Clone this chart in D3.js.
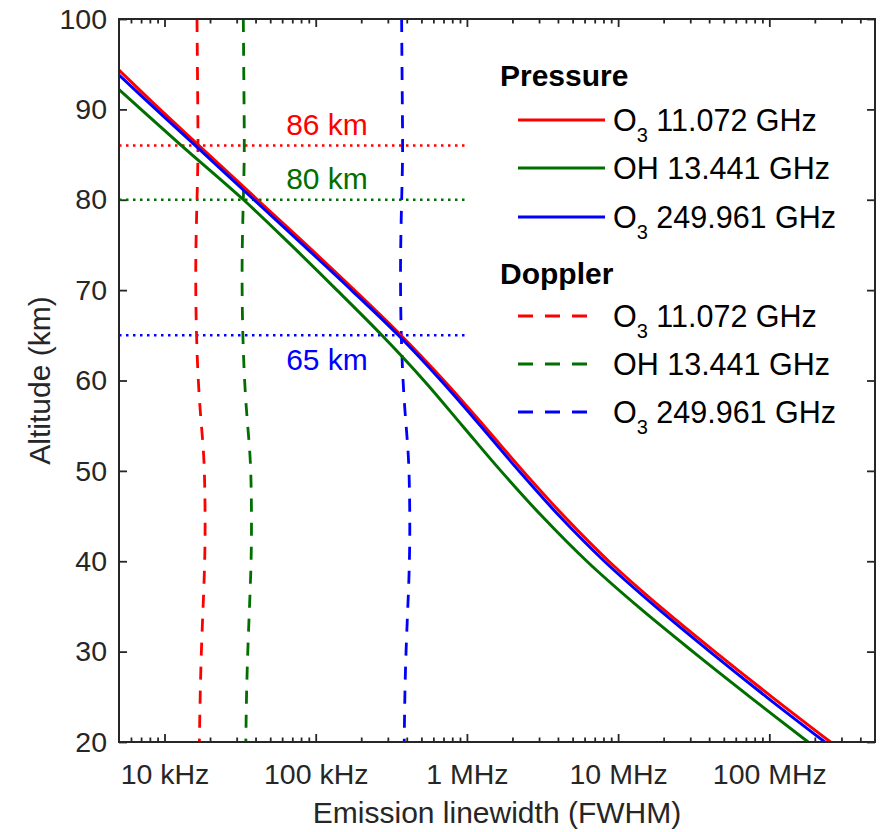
<!DOCTYPE html>
<html>
<head>
<meta charset="utf-8">
<title>Emission linewidth vs altitude</title>
<script src="https://cdn.jsdelivr.net/npm/d3@7"></script>
<style>
  body { margin: 0; background: #fff; }
  text { font-family: "Liberation Sans", Arial, Helvetica, sans-serif; }
</style>
</head>
<body>
<script>

// ---- data (altitude in km, linewidth in Hz) ----
const presAltRed   = [94.35, 90, 86, 80, 75, 70, 65, 60, 55, 50, 45, 40, 35, 30, 25, 20];
const presRed      = [5.0e3, 9.34e3, 1.690e4, 4.12e4, 8.68e4, 1.803e5, 3.66e5, 7.04e5, 1.295e6, 2.345e6, 4.38e6, 8.68e6, 1.887e7, 4.36e7, 1.038e8, 2.54e8];
const presAltGreen = [92.2, 90, 86, 80, 75, 70, 65, 60, 55, 50, 45, 40, 35, 30, 25, 20];
const presGreen    = [5.0e3, 6.99e3, 1.295e4, 3.33e4, 6.86e4, 1.381e5, 2.74e5, 5.19e5, 9.33e5, 1.677e6, 3.13e6, 6.21e6, 1.35e7, 3.12e7, 7.43e7, 1.805e8];
const presAltBlue  = [93.8, 90, 86, 80, 75, 70, 65, 60, 55, 50, 45, 40, 35, 30, 25, 20];
const presBlue     = [5.0e3, 8.78e3, 1.602e4, 3.905e4, 8.23e4, 1.722e5, 3.52e5, 6.73e5, 1.228e6, 2.207e6, 4.09e6, 8.11e6, 1.762e7, 4.04e7, 9.55e7, 2.33e8];

const dopAlt   = [100, 90, 85, 80, 73, 65, 58, 53, 50, 45, 40, 35, 30, 25, 20];
const dopRed   = [1.64e4, 1.66e4, 1.67e4, 1.64e4, 1.60e4, 1.62e4, 1.69e4, 1.80e4, 1.84e4, 1.86e4, 1.85e4, 1.80e4, 1.75e4, 1.72e4, 1.70e4];
const dopGreen = [3.32e4, 3.36e4, 3.38e4, 3.32e4, 3.24e4, 3.28e4, 3.42e4, 3.64e4, 3.73e4, 3.77e4, 3.75e4, 3.65e4, 3.55e4, 3.48e4, 3.45e4];
const dopBlue  = [3.70e5, 3.74e5, 3.77e5, 3.70e5, 3.62e5, 3.66e5, 3.82e5, 4.06e5, 4.15e5, 4.20e5, 4.18e5, 4.07e5, 3.95e5, 3.88e5, 3.85e5];

const crossAlt    = [86, 80, 65];
const crossLabels = ["86 km", "80 km", "65 km"];
const crossEnd    = [5e3, 1e6];

const xTickValues = [1e4, 1e5, 1e6, 1e7, 1e8];
const xTickLabels = ["10 kHz", "100 kHz", "1 MHz", "10 MHz", "100 MHz"];
const yTickValues = [20, 30, 40, 50, 60, 70, 80, 90, 100];

const lineSpecies = ["O", "OH", "O"];
const lineSub     = ["3", "", "3"];
const lineFreqs   = ["11.072 GHz", "13.441 GHz", "249.961 GHz"];

const colors = ["#ff0000", "#006f00", "#0000ff"];
const axisColor = "#262626";

// ---- layout ----
const W = 881, H = 832;
const plot = { left: 119, right: 875, top: 19, bottom: 742 };

let x = d3.scaleLog().domain([5e3, 5e8]).range([plot.left, plot.right]);
let y = d3.scaleLinear().domain([20, 100]).range([plot.bottom, plot.top]);

let svg = d3.select("body").append("svg")
    .attr("width", W)
    .attr("height", H);

// minor ticks on the log axis: 2..9 of every decade inside the domain
let minorTicks = [];
for (let e = 3; e <= 8; e++) {
    for (let m = 2; m <= 9; m++) {
        let v = m * Math.pow(10, e);
        if (v > 5e3 && v < 5e8) minorTicks.push(v);
    }
}

let clipId = "plotclip";
svg.append("clipPath").attr("id", clipId)
    .append("rect")
    .attr("x", plot.left).attr("y", plot.top)
    .attr("width", plot.right - plot.left)
    .attr("height", plot.bottom - plot.top);

// ---- axes ----
function styleAxis(g) {
    g.select(".domain").remove();
    g.selectAll(".tick line").attr("stroke", axisColor).attr("stroke-width", 1.8);
    g.selectAll(".tick text").attr("fill", axisColor).style("font-size", "28.5px");
}

svg.append("g")
    .attr("transform", `translate(0,${plot.bottom})`)
    .call(d3.axisBottom(x).tickValues(xTickValues)
        .tickFormat((d, i) => xTickLabels[i])
        .tickSize(-8).tickSizeOuter(0).tickPadding(22))
    .call(styleAxis);

svg.append("g")
    .attr("transform", `translate(0,${plot.bottom})`)
    .call(d3.axisBottom(x).tickValues(minorTicks).tickFormat("")
        .tickSize(-4.5).tickSizeOuter(0))
    .call(styleAxis);

svg.append("g")
    .attr("transform", `translate(0,${plot.top})`)
    .call(d3.axisTop(x).tickValues(xTickValues).tickFormat("")
        .tickSize(-8).tickSizeOuter(0))
    .call(styleAxis);

svg.append("g")
    .attr("transform", `translate(0,${plot.top})`)
    .call(d3.axisTop(x).tickValues(minorTicks).tickFormat("")
        .tickSize(-4.5).tickSizeOuter(0))
    .call(styleAxis);

svg.append("g")
    .attr("transform", `translate(${plot.left},0)`)
    .call(d3.axisLeft(y).tickValues(yTickValues)
        .tickSize(-8).tickSizeOuter(0).tickPadding(12))
    .call(styleAxis);

svg.append("g")
    .attr("transform", `translate(${plot.right},0)`)
    .call(d3.axisRight(y).tickValues(yTickValues).tickFormat("")
        .tickSize(-8).tickSizeOuter(0))
    .call(styleAxis);

// axis titles
svg.append("text")
    .attr("x", (plot.left + plot.right) / 2)
    .attr("y", 823)
    .attr("text-anchor", "middle")
    .attr("fill", axisColor)
    .style("font-size", "30px")
    .text("Emission linewidth (FWHM)");

svg.append("text")
    .attr("transform", `translate(50,${(plot.top + plot.bottom) / 2}) rotate(-90)`)
    .attr("text-anchor", "middle")
    .attr("fill", axisColor)
    .style("font-size", "30px")
    .text("Altitude (km)");

// ---- marks ----
let marks = svg.append("g").attr("clip-path", `url(#${clipId})`);

let curve = d3.line()
    .x(d => x(d[1]))
    .y(d => y(d[0]))
    .curve(d3.curveCatmullRom.alpha(0.5));

let doppCurve = d3.line()
    .x(d => x(d[1]))
    .y(d => y(d[0]))
    .curve(d3.curveBasis);

// crossover altitude lines (dotted)
crossAlt.forEach((a, i) => {
    marks.append("line")
        .attr("x1", x(crossEnd[0]))
        .attr("x2", x(crossEnd[1]))
        .attr("y1", y(a))
        .attr("y2", y(a))
        .attr("stroke", colors[i])
        .attr("stroke-width", 2.5)
        .attr("stroke-dasharray", "2.5,4.5");
});

// doppler widths (dashed)
[dopRed, dopGreen, dopBlue].forEach((vals, i) => {
    marks.append("path")
        .datum(dopAlt.map((a, j) => [a, vals[j]]))
        .attr("d", doppCurve)
        .attr("fill", "none")
        .attr("stroke", colors[i])
        .attr("stroke-width", 2.8)
        .attr("stroke-dasharray", "13,11");
});

// pressure widths (solid)
let pres = [[presAltRed, presRed], [presAltGreen, presGreen], [presAltBlue, presBlue]];
[1, 0, 2].forEach(i => {
    let alts = pres[i][0], vals = pres[i][1];
    marks.append("path")
        .datum(alts.map((a, j) => [a, vals[j]]))
        .attr("d", curve)
        .attr("fill", "none")
        .attr("stroke", colors[i])
        .attr("stroke-width", 3);
});

// crossover labels
let labelDy = [-11, -11, 35];
crossAlt.forEach((a, i) => {
    svg.append("text")
        .attr("x", 327)
        .attr("y", y(a) + labelDy[i])
        .attr("text-anchor", "middle")
        .attr("fill", colors[i])
        .style("font-size", "30px")
        .text(crossLabels[i]);
});

// frame
svg.append("rect")
    .attr("x", plot.left).attr("y", plot.top)
    .attr("width", plot.right - plot.left)
    .attr("height", plot.bottom - plot.top)
    .attr("fill", "none")
    .attr("stroke", axisColor)
    .attr("stroke-width", 2);

// ---- legend ----
let legend = svg.append("g");
let headers = [["Pressure", 75], ["Doppler", 273]];
let rowY = [[120, 168, 217], [316, 364, 412]];

headers.forEach((h, k) => {
    legend.append("text")
        .attr("x", 500)
        .attr("y", h[1])
        .attr("dy", "0.35em")
        .style("font-size", "30px")
        .style("font-weight", "bold")
        .attr("fill", "#000")
        .text(h[0]);

    rowY[k].forEach((ry, i) => {
        legend.append("line")
            .attr("x1", 518).attr("x2", k === 0 ? 605 : 594)
            .attr("y1", ry).attr("y2", ry)
            .attr("stroke", colors[i])
            .attr("stroke-width", 2.8)
            .attr("stroke-dasharray", k === 0 ? null : "15,12");

        let t = legend.append("text")
            .attr("x", 613)
            .attr("y", ry)
            .attr("dy", "0.35em")
            .style("font-size", "30.5px")
            .attr("fill", "#000");
        t.append("tspan").text(lineSpecies[i]);
        if (lineSub[i]) {
            t.append("tspan").attr("dy", 11).style("font-size", "20px").text(lineSub[i]);
            t.append("tspan").attr("dy", -11).text(" " + lineFreqs[i]);
        } else {
            t.append("tspan").text(" " + lineFreqs[i]);
        }
    });
});

</script>
</body>
</html>
